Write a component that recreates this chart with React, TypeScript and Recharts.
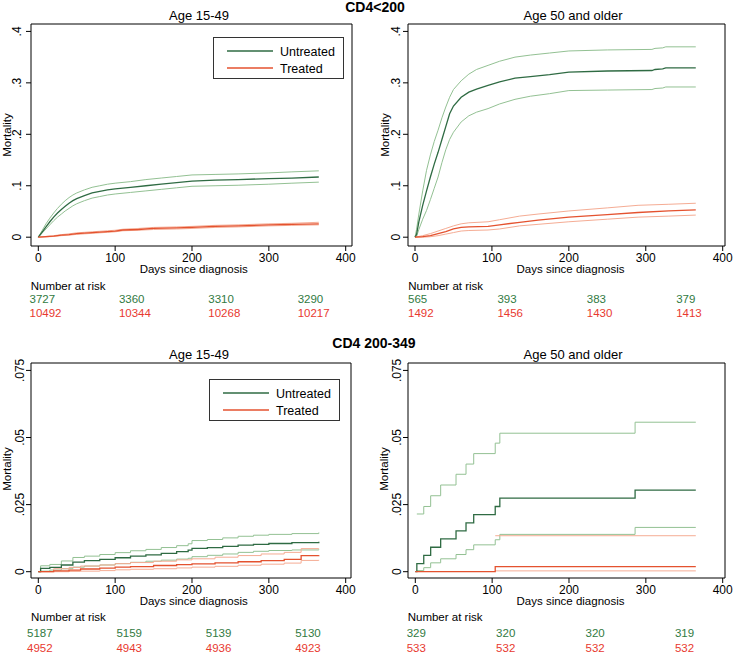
import React from 'react';
import { LineChart, Line, XAxis, YAxis, ReferenceArea, Legend } from 'recharts';

const FONT = '"Liberation Sans", Arial, sans-serif';
const GREEN = '#2f6b43';
const GREEN_CI = '#93c193';
const RED = '#e4522f';
const RED_CI = '#f5ac94';
const RISK_GREEN = '#317a42';
const RISK_RED = '#e8392f';

const xTicks = [0, 100, 200, 300, 400];
const yTicksHigh = [0, 0.1, 0.2, 0.3, 0.4];
const yTicksLow = [0, 0.025, 0.05, 0.075];
const riskTimes = ['t0', 't1', 't2', 't3'];

// CD4<200, age 15-49
const tlUntreatedDays = [0, 5, 10, 15, 20, 25, 30, 35, 40, 45, 50, 60, 70, 80, 90, 100, 120, 140, 160, 180, 200, 230, 260, 300, 330, 365];
const tlUntreated = [0, 0.01, 0.02, 0.03, 0.039, 0.047, 0.054, 0.06, 0.066, 0.071, 0.075, 0.081, 0.086, 0.089, 0.092, 0.094, 0.097, 0.1, 0.103, 0.106, 0.109, 0.111, 0.112, 0.114, 0.115, 0.117];
const tlUntreatedHi = [0, 0.013, 0.026, 0.037, 0.047, 0.056, 0.064, 0.071, 0.077, 0.082, 0.086, 0.092, 0.097, 0.1, 0.103, 0.105, 0.108, 0.112, 0.115, 0.118, 0.121, 0.122, 0.123, 0.125, 0.127, 0.129];
const tlUntreatedLo = [0, 0.008, 0.016, 0.024, 0.032, 0.039, 0.045, 0.051, 0.056, 0.061, 0.065, 0.071, 0.076, 0.079, 0.082, 0.084, 0.087, 0.09, 0.093, 0.096, 0.099, 0.1, 0.101, 0.103, 0.105, 0.107];
const tlTreatedDays = [0, 10, 20, 30, 40, 50, 60, 70, 80, 90, 100, 110, 130, 150, 180, 200, 230, 260, 300, 330, 365];
const tlTreated = [0, 0.001, 0.002, 0.004, 0.005, 0.007, 0.008, 0.009, 0.01, 0.011, 0.012, 0.014, 0.015, 0.017, 0.018, 0.019, 0.021, 0.022, 0.024, 0.025, 0.026];
const tlTreatedHi = [0, 0.0015, 0.003, 0.005, 0.0065, 0.0085, 0.0095, 0.0105, 0.0115, 0.0125, 0.0135, 0.0155, 0.017, 0.019, 0.02, 0.021, 0.023, 0.024, 0.026, 0.027, 0.029];
const tlTreatedLo = [0, 0.0005, 0.0015, 0.003, 0.004, 0.0055, 0.0065, 0.0075, 0.0085, 0.0095, 0.0105, 0.0125, 0.0135, 0.015, 0.016, 0.017, 0.019, 0.02, 0.022, 0.023, 0.024];
const tlRiskUntreated = [3727, 3360, 3310, 3290];
const tlRiskTreated = [10492, 10344, 10268, 10217];

// CD4<200, age 50 and older
const trUntreatedDays = [0, 2, 5, 10, 15, 20, 25, 30, 35, 40, 45, 50, 60, 70, 80, 95, 110, 130, 150, 175, 200, 250, 308, 312, 322, 326, 365];
const trUntreated = [0, 0.005, 0.03, 0.062, 0.09, 0.117, 0.142, 0.165, 0.19, 0.215, 0.24, 0.255, 0.272, 0.282, 0.288, 0.295, 0.302, 0.309, 0.312, 0.316, 0.321, 0.323, 0.324, 0.326, 0.327, 0.329, 0.329];
const trUntreatedHi = [0, 0.015, 0.045, 0.09, 0.13, 0.16, 0.186, 0.208, 0.232, 0.253, 0.272, 0.287, 0.304, 0.317, 0.326, 0.334, 0.342, 0.35, 0.354, 0.358, 0.362, 0.364, 0.365, 0.367, 0.368, 0.37, 0.37];
const trUntreatedLo = [0, 0.001, 0.015, 0.035, 0.052, 0.073, 0.095, 0.117, 0.145, 0.17, 0.19, 0.204, 0.224, 0.236, 0.243, 0.25, 0.259, 0.268, 0.274, 0.279, 0.285, 0.286, 0.287, 0.289, 0.29, 0.292, 0.292];
const trTreatedDays = [0, 10, 20, 30, 40, 50, 60, 70, 95, 110, 136, 160, 200, 250, 290, 330, 365];
const trTreated = [0, 0.001, 0.003, 0.007, 0.011, 0.016, 0.019, 0.02, 0.021, 0.024, 0.029, 0.033, 0.039, 0.044, 0.048, 0.051, 0.053];
const trTreatedHi = [0, 0.003, 0.007, 0.012, 0.017, 0.022, 0.026, 0.028, 0.03, 0.034, 0.041, 0.045, 0.051, 0.057, 0.062, 0.064, 0.066];
const trTreatedLo = [0, 0, 0.001, 0.003, 0.006, 0.009, 0.012, 0.013, 0.014, 0.016, 0.022, 0.025, 0.03, 0.035, 0.039, 0.041, 0.043];
const trRiskUntreated = [565, 393, 383, 379];
const trRiskTreated = [1492, 1456, 1430, 1413];

// CD4 200-349, age 15-49
const blUntreatedDays = [0, 3, 15, 30, 45, 60, 80, 100, 120, 140, 160, 180, 195, 200, 220, 240, 260, 280, 300, 330, 365];
const blUntreated = [0, 0.0012, 0.0016, 0.0025, 0.0036, 0.0041, 0.0046, 0.0052, 0.0058, 0.0063, 0.0068, 0.0075, 0.008, 0.0087, 0.009, 0.0094, 0.0099, 0.0102, 0.0105, 0.0108, 0.0112];
const blUntreatedHi = [0, 0.0022, 0.0027, 0.004, 0.0053, 0.0058, 0.0064, 0.0071, 0.0078, 0.0083, 0.009, 0.0097, 0.0104, 0.0116, 0.012, 0.0126, 0.0132, 0.0136, 0.0139, 0.0142, 0.0146];
const blUntreatedLo = [0, 0.0002, 0.0006, 0.0011, 0.0017, 0.0021, 0.0025, 0.003, 0.0035, 0.0039, 0.0043, 0.0047, 0.005, 0.0056, 0.0061, 0.0066, 0.0072, 0.0076, 0.0079, 0.0081, 0.0083];
const blTreatedDays = [0, 20, 40, 55, 80, 100, 120, 150, 180, 200, 230, 260, 290, 320, 342, 365];
const blTreated = [0, 0.0003, 0.0006, 0.001, 0.0013, 0.0017, 0.0019, 0.0023, 0.0026, 0.0029, 0.0033, 0.0037, 0.0041, 0.0046, 0.006, 0.0061];
const blTreatedHi = [0, 0.0011, 0.0016, 0.0021, 0.0025, 0.003, 0.0034, 0.0039, 0.0044, 0.0048, 0.0054, 0.006, 0.0066, 0.0072, 0.0086, 0.0087];
const blTreatedLo = [0, 0, 0.0001, 0.0002, 0.0004, 0.0007, 0.0009, 0.0011, 0.0014, 0.0017, 0.002, 0.0024, 0.0028, 0.0032, 0.0042, 0.0044];
const blRiskUntreated = [5187, 5159, 5139, 5130];
const blRiskTreated = [4952, 4943, 4936, 4923];

// CD4 200-349, age 50 and older
const brUntreatedDays = [0, 2, 11, 20, 33, 53, 66, 76, 104, 110, 286, 365];
const brUntreated = [0, 0.003, 0.0061, 0.0091, 0.0122, 0.0152, 0.0182, 0.0213, 0.0243, 0.0274, 0.0304, 0.0304];
const brCiDays = [2, 11, 20, 33, 53, 66, 76, 104, 110, 286, 365];
const brUntreatedHi = [0.0215, 0.0243, 0.0283, 0.0323, 0.0363, 0.0401, 0.044, 0.0479, 0.0516, 0.0557, 0.0557];
const brUntreatedLo = [0.0004, 0.0015, 0.0033, 0.0048, 0.0064, 0.0082, 0.01, 0.0119, 0.0139, 0.0165, 0.0165];
const brTreatedDays = [0, 104, 365];
const brTreated = [0, 0.0019, 0.0019];
const brTreatedCiDays = [104, 365];
const brTreatedHi = [0.0134, 0.0134];
const brTreatedLo = [0.0003, 0.0003];
const brRiskUntreated = [329, 320, 320, 319];
const brRiskTreated = [533, 532, 532, 532];

const pts = (days: number[], vals: number[]) => days.map((t, i) => ({ t, v: vals[i] }));

const fmtY = (v: number) => (v === 0 ? '0' : String(v).replace(/^0/, ''));

const curves = (
  uDays: number[], u: number[], uHiDays: number[], uHi: number[], uLo: number[],
  tDays: number[], t: number[], tHiDays: number[], tHi: number[], tLo: number[]
) => [
  { key: 'uhi', data: pts(uHiDays, uHi), color: GREEN_CI, w: 1 },
  { key: 'ulo', data: pts(uHiDays, uLo), color: GREEN_CI, w: 1 },
  { key: 'thi', data: pts(tHiDays, tHi), color: RED_CI, w: 1 },
  { key: 'tlo', data: pts(tHiDays, tLo), color: RED_CI, w: 1 },
  { key: 'u', data: pts(uDays, u), color: GREEN, w: 1.3 },
  { key: 't', data: pts(tDays, t), color: RED, w: 1.3 },
];

const panels = [
  {
    id: 'tl', left: 0, top: 0, width: 366, height: 330, curve: 'linear',
    margin: { top: 24, right: 14, bottom: 54, left: 0 },
    xDomain: [-9.5, 408.2], yDomain: [-0.0171, 0.4144], yTicks: yTicksHigh, yShift: 5,
    series: curves(tlUntreatedDays, tlUntreated, tlUntreatedDays, tlUntreatedHi, tlUntreatedLo,
      tlTreatedDays, tlTreated, tlTreatedDays, tlTreatedHi, tlTreatedLo),
    legend: { left: 213, top: 37 },
  },
  {
    id: 'tr', left: 366, top: 0, width: 367, height: 330, curve: 'linear',
    margin: { top: 24, right: 8, bottom: 54, left: 11 },
    xDomain: [-9.1, 403], yDomain: [-0.0171, 0.4144], yTicks: yTicksHigh, yShift: 3,
    series: curves(trUntreatedDays, trUntreated, trUntreatedDays, trUntreatedHi, trUntreatedLo,
      trTreatedDays, trTreated, trTreatedDays, trTreatedHi, trTreatedLo),
    legend: null,
  },
  {
    id: 'bl', left: 0, top: 330, width: 366, height: 326, curve: 'stepAfter',
    margin: { top: 33, right: 15, bottom: 48, left: 0 },
    xDomain: [-9.5, 406.9], yDomain: [-0.00235, 0.07776], yTicks: yTicksLow, yShift: 2,
    series: curves(blUntreatedDays, blUntreated, blUntreatedDays, blUntreatedHi, blUntreatedLo,
      blTreatedDays, blTreated, blTreatedDays, blTreatedHi, blTreatedLo),
    legend: { left: 209, top: 49 },
  },
  {
    id: 'br', left: 366, top: 330, width: 367, height: 326, curve: 'stepAfter',
    margin: { top: 33, right: 8, bottom: 48, left: 11 },
    xDomain: [-9.5, 403], yDomain: [-0.00235, 0.07776], yTicks: yTicksLow, yShift: 2,
    series: curves(brUntreatedDays, brUntreated, brCiDays, brUntreatedHi, brUntreatedLo,
      brTreatedDays, brTreated, brTreatedCiDays, brTreatedHi, brTreatedLo),
    legend: null,
  },
];

const riskTables = [
  { hx: 30.7, x0: 29.5, hy: 289.5, gy: 303.3, ry: 316.7, green: tlRiskUntreated, red: tlRiskTreated },
  { hx: 408.3, x0: 408, hy: 289.5, gy: 303.3, ry: 316.7, green: trRiskUntreated, red: trRiskTreated },
  { hx: 31, x0: 27, hy: 621, gy: 637.3, ry: 652.3, green: blRiskUntreated, red: blRiskTreated },
  { hx: 407.7, x0: 406.7, hy: 621, gy: 637.3, ry: 652.3, green: brRiskUntreated, red: brRiskTreated },
];

const LegendBox = () => (
  <svg width={131} height={42} style={{ display: 'block' }}>
    <rect x={0.5} y={0.5} width={130} height={41} fill="#fff" stroke="#333" strokeWidth={1} />
    <line x1={14} x2={60} y1={14} y2={14} stroke={GREEN} strokeWidth={1.3} />
    <line x1={14} x2={60} y1={31} y2={31} stroke={RED} strokeWidth={1.3} />
    <text x={67} y={18.5} fontSize={12.5} fill="#000" fontFamily={FONT}>Untreated</text>
    <text x={67} y={35.5} fontSize={12.5} fill="#000" fontFamily={FONT}>Treated</text>
  </svg>
);

function Panel({ p }: { p: any }) {
  return (
    <div style={{ position: 'absolute', left: p.left, top: p.top }}>
      <LineChart width={p.width} height={p.height} margin={p.margin}>
        <XAxis
          dataKey="t"
          type="number"
          domain={p.xDomain}
          ticks={xTicks}
          allowDataOverflow
          axisLine={false}
          tickSize={5}
          tickMargin={2}
          height={30}
          tickLine={{ stroke: '#000' }}
          tick={{ fontSize: 12, fill: '#000' }}
        />
        <YAxis
          type="number"
          domain={p.yDomain}
          ticks={p.yTicks}
          allowDataOverflow
          axisLine={false}
          width={31}
          tickSize={5}
          tickMargin={0}
          tickLine={{ stroke: '#000' }}
          tick={(props: any) => {
            const x = props.x - p.yShift;
            return (
              <text x={x} y={props.y} transform={`rotate(-90 ${x} ${props.y})`} textAnchor="middle" fontSize={12} fill="#000">
                {fmtY(props.payload.value)}
              </text>
            );
          }}
        />
        <ReferenceArea
          x1={p.xDomain[0]}
          x2={p.xDomain[1]}
          y1={p.yDomain[0]}
          y2={p.yDomain[1]}
          fill="none"
          fillOpacity={0}
          stroke="#000"
          strokeWidth={1}
          ifOverflow="visible"
        />
        {p.series.map((s: any) => (
          <Line
            key={s.key}
            data={s.data}
            dataKey="v"
            type={p.curve}
            stroke={s.color}
            strokeWidth={s.w}
            dot={false}
            activeDot={false}
            isAnimationActive={false}
          />
        ))}
        {p.legend && (
          <Legend
            layout="vertical"
            align="center"
            verticalAlign="middle"
            content={() => <LegendBox />}
            wrapperStyle={{ position: 'absolute', left: p.legend.left, top: p.legend.top, width: 131, height: 42 }}
          />
        )}
      </LineChart>
    </div>
  );
}

export default function App() {
  return (
    <div style={{ position: 'absolute', left: 0, top: 0, width: 733, height: 656, background: '#fff', fontFamily: FONT }}>
      {panels.map((p) => (
        <Panel key={p.id} p={p} />
      ))}
      <svg width={733} height={656} style={{ position: 'absolute', left: 0, top: 0, pointerEvents: 'none' }} fontFamily={FONT}>
        <text x={375} y={12} textAnchor="middle" fontSize={14} fontWeight="bold">CD4&lt;200</text>
        <text x={374} y={348} textAnchor="middle" fontSize={14} fontWeight="bold">CD4 200-349</text>

        <text x={199} y={19.5} textAnchor="middle" fontSize={13}>Age 15-49</text>
        <text x={573} y={19.5} textAnchor="middle" fontSize={13}>Age 50 and older</text>
        <text x={199} y={359.3} textAnchor="middle" fontSize={13}>Age 15-49</text>
        <text x={573} y={359.3} textAnchor="middle" fontSize={13}>Age 50 and older</text>

        <text x={193.7} y={273} textAnchor="middle" fontSize={11.5}>Days since diagnosis</text>
        <text x={570.5} y={273} textAnchor="middle" fontSize={11.5}>Days since diagnosis</text>
        <text x={193.7} y={605} textAnchor="middle" fontSize={11.5}>Days since diagnosis</text>
        <text x={570.5} y={605} textAnchor="middle" fontSize={11.5}>Days since diagnosis</text>

        {[
          [11, 135],
          [389, 135],
          [11, 469],
          [388, 469],
        ].map(([x, y], i) => (
          <text key={i} x={x} y={y} transform={`rotate(-90 ${x} ${y})`} textAnchor="middle" fontSize={11.5}>
            Mortality
          </text>
        ))}

        {riskTables.map((r, k) => (
          <g key={k} fontSize={11.5}>
            <text x={r.hx} y={r.hy} fill="#000">Number at risk</text>
            {riskTimes.map((id, i) => (
              <text key={'g' + id} x={r.x0 + i * 89.4} y={r.gy} fill={RISK_GREEN}>{r.green[i]}</text>
            ))}
            {riskTimes.map((id, i) => (
              <text key={'r' + id} x={r.x0 + i * 89.4} y={r.ry} fill={RISK_RED}>{r.red[i]}</text>
            ))}
          </g>
        ))}
      </svg>
    </div>
  );
}
